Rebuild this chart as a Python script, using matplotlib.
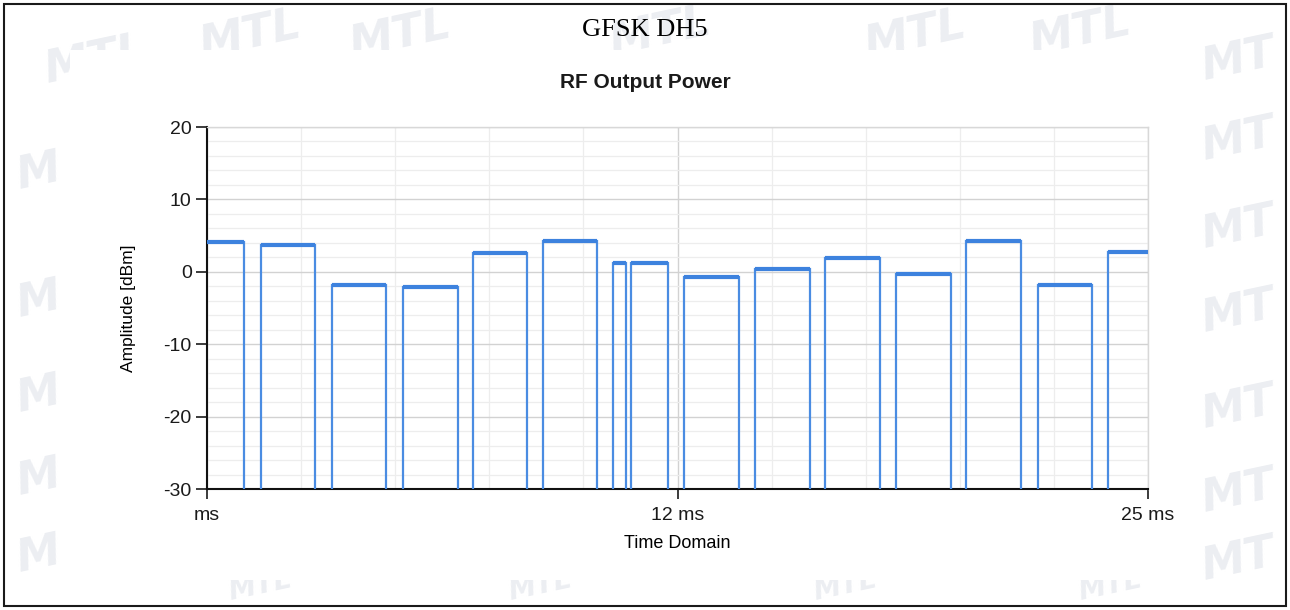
import matplotlib
matplotlib.use("Agg")
import matplotlib.pyplot as plt
from matplotlib.patches import Rectangle
from matplotlib.ticker import MultipleLocator, FixedLocator

plt.rcParams["axes.unicode_minus"] = False

# ---- data ----
burst_start_ms = [-0.5, 1.43, 3.31, 5.20, 7.06, 8.93, 10.79, 11.26, 12.68, 14.56, 16.42, 18.30, 20.16, 22.07, 23.94]
burst_end_ms   = [0.99, 2.87, 4.75, 6.66, 8.51, 10.37, 11.13, 12.26, 14.13, 16.02, 17.88, 19.76, 21.63, 23.50, 25.5]
burst_level_dbm = [4.05, 3.7, -1.8, -2.1, 2.55, 4.25, 1.2, 1.15, -0.65, 0.4, 1.9, -0.35, 4.3, -1.85, 2.75]
off_level_dbm = -45.0

x_tick_values = [0, 12.5, 25]
x_tick_labels = ["ms", "12 ms", "25 ms"]
y_tick_values = [20, 10, 0, -10, -20, -30]

W, H = 1290, 610
fig = plt.figure(figsize=(W / 100, H / 100), dpi=100)
fig.patch.set_facecolor("white")

# faint watermark behind the chart panel
wm_color = "#eceef2"
wm_items = [("MTL", 95, 60, 32), ("MTL", 250, 35, 32), ("MTL", 400, 35, 32), ("MTL", 660, 32, 32),
            ("MTL", 915, 35, 32), ("MTL", 1080, 32, 32),
            ("M", 38, 172, 32), ("M", 38, 300, 32), ("M", 38, 395, 32), ("M", 38, 478, 32),
            ("M", 38, 555, 32),
            ("MT", 1238, 60, 32), ("MT", 1238, 140, 32), ("MT", 1238, 228, 32), ("MT", 1238, 312, 32),
            ("MT", 1238, 408, 32), ("MT", 1238, 492, 32), ("MT", 1238, 560, 32),
            ("MTL", 260, 586, 20), ("MTL", 540, 586, 20), ("MTL", 845, 586, 20), ("MTL", 1110, 586, 20)]
for (txt, px, py, fs) in wm_items:
    fig.text(px / W, 1 - py / H, txt, fontsize=fs, fontweight="bold", style="italic",
             color=wm_color, rotation=12, ha="center", va="center",
             family="DejaVu Sans", zorder=0)

# white chart panel covering the watermark
fig.patches.append(Rectangle((70 / W, 1 - 580 / H), (1190 - 70) / W, (580 - 50) / H,
                             transform=fig.transFigure, facecolor="white",
                             edgecolor="none", zorder=1))
# outer border
fig.patches.append(Rectangle((4 / W, 4 / H), (W - 8) / W, (H - 8) / H,
                             transform=fig.transFigure, facecolor="none",
                             edgecolor="#1a1a1a", linewidth=1.5, zorder=5))

ax = fig.add_axes([207 / W, 1 - 489 / H, (1148 - 207) / W, (489 - 127) / H])
ax.set_zorder(3)
ax.set_facecolor("white")

# build the trace
xs, ys = [], []
for s, e, lv in zip(burst_start_ms, burst_end_ms, burst_level_dbm):
    xs += [s, s, e, e]
    ys += [off_level_dbm, lv, lv, off_level_dbm]
trace_color = "#4a8ce2"
ax.plot(xs, ys, color=trace_color, linewidth=1.6, zorder=3, solid_joinstyle="miter")
ax.hlines(burst_level_dbm, burst_start_ms, burst_end_ms, color="#3d82de",
          linewidth=3.0, zorder=4)

ax.set_xlim(0, 25)
ax.set_ylim(-30, 20)

# grid
ax.xaxis.set_major_locator(FixedLocator(x_tick_values))
ax.xaxis.set_minor_locator(MultipleLocator(2.5))
ax.yaxis.set_major_locator(FixedLocator(y_tick_values))
ax.yaxis.set_minor_locator(MultipleLocator(2))
ax.grid(which="minor", color="#ededed", linewidth=0.9, zorder=0)
ax.grid(which="major", color="#d2d2d2", linewidth=1.0, zorder=0)
ax.set_axisbelow(True)

ax.set_xticklabels(x_tick_labels)
ax.tick_params(axis="both", which="minor", length=0)
ax.tick_params(axis="x", which="major", length=7, width=1.2, pad=6,
               labelsize=14, colors="#1a1a1a")
ax.tick_params(axis="y", which="major", length=8, width=1.2, pad=3,
               labelsize=14, colors="#1a1a1a")
for lab in ax.get_xticklabels() + ax.get_yticklabels():
    lab.set_family("Liberation Sans")

for side in ("left", "bottom"):
    ax.spines[side].set_color("#111111")
    ax.spines[side].set_linewidth(1.5)
for side in ("top", "right"):
    ax.spines[side].set_color("#d8d8d8")
    ax.spines[side].set_linewidth(1.0)

ax.set_ylabel("Amplitude [dBm]", fontsize=12.5, family="Liberation Sans", labelpad=20)
ax.set_xlabel("Time Domain", fontsize=13, family="Liberation Sans", labelpad=8)

fig.text(645 / W, 1 - 30 / H, "GFSK DH5", fontsize=19, family="Liberation Serif",
         ha="center", va="center", zorder=4)
fig.text(645 / W, 1 - 82 / H, "RF Output Power", fontsize=15, fontweight="bold",
         family="Liberation Sans", ha="center", va="center", zorder=4, color="#1a1a1a")

fig.savefig("out.png", dpi=100, facecolor="white")
